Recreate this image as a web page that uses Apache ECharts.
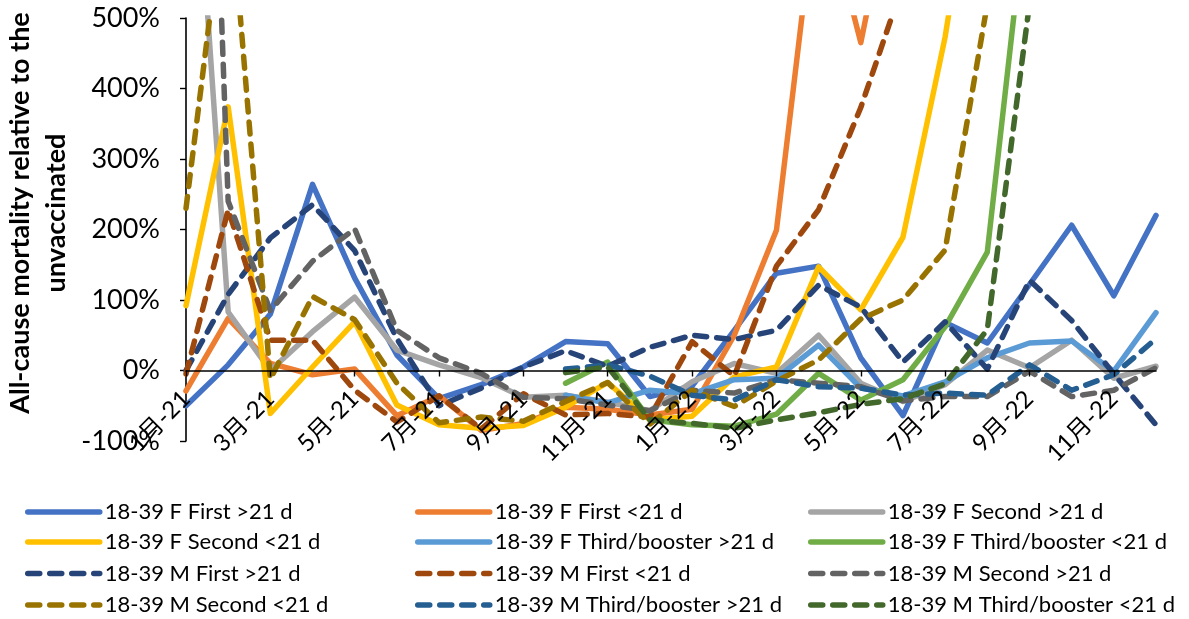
<!DOCTYPE html>
<html>
<head>
<meta charset="utf-8">
<script src="https://cdn.jsdelivr.net/npm/echarts@6/dist/echarts.min.js"></script>
<style>
  html, body { margin: 0; padding: 0; background: #fff; }
  #chart { width: 1189px; height: 619px; }
</style>
</head>
<body>
<div id="chart"></div>
<script>
// Monthly categories, Jan 2021 – Dec 2022
const months = [
  '1月-21','2月-21','3月-21','4月-21','5月-21','6月-21','7月-21','8月-21','9月-21','10月-21','11月-21','12月-21',
  '1月-22','2月-22','3月-22','4月-22','5月-22','6月-22','7月-22','8月-22','9月-22','10月-22','11月-22','12月-22'
];

// All-cause mortality relative to the unvaccinated, in percent (18-39 age band)
const fFirstOver21   = [-50, 8, 80, 264, 131, 22, -40, -20, 5, 41, 38, -37, -22, 57, 138, 148, 18, -64, 68, 39, 122, 206, 106, 220];
const fFirstUnder21  = [-29, 74, 10, -6, 2, -64, -36, -85, -75, -52, -55, -63, -55, 50, 199, 700, 465, 760, null, null, null, null, null, null];
const fSecondOver21  = [950, 83, 0, 55, 104, 29, 8, -10, -38, -35, -45, -57, -16, 10, -4, 50, -18, -44, -20, 29, 4, 43, -11, 6];
const fSecondUnder21 = [92, 374, -61, 5, 69, -49, -77, -82, -78, -52, -17, -70, -65, -9, 5, 147, 86, 189, 473, 850, null, null, null, null];
const fThirdOver21   = [null, null, null, null, null, null, null, null, null, -35, -46, -28, -33, -13, -11, 36, -25, -36, -16, 18, 39, 42, -1, 82];
const fThirdUnder21  = [null, null, null, null, null, null, null, null, null, -18, 12, -70, -77, -79, -62, -4, -42, -13, 62, 168, 700, null, null, null];
const mFirstOver21   = [0, 108, 188, 235, 170, 45, -50, -25, 5, 28, 6, 33, 50, 44, 57, 121, 90, 12, 69, 2, 128, 71, -5, -77];
const mFirstUnder21  = [-5, 228, 43, 43, -28, -73, -36, -83, -33, -63, -61, -66, 41, -8, 148, 228, 373, 548, null, null, null, null, null, null];
const mSecondOver21  = [1900, 240, 85, 155, 201, 57, 18, -4, -38, -40, -49, -57, -28, -32, -13, -18, -23, -43, -37, -37, -1, -37, -28, 4];
const mSecondUnder21 = [230, 710, -12, 105, 72, -18, -74, -66, -72, -44, -17, -76, -28, -51, -15, 15, 73, 100, 171, 520, null, null, null, null];
const mThirdOver21   = [null, null, null, null, null, null, null, null, null, 2, 8, -8, -35, -42, -13, -23, -25, -35, -32, -35, 8, -28, -6, 45];
const mThirdUnder21  = [null, null, null, null, null, null, null, null, null, -3, 5, -70, -75, -82, -70, -60, -48, -40, -19, 58, 520, null, null, null];

// Y-axis ticks
const yMin = -100, yMax = 500, yStep = 100;

const FONT = "Lato, 'Noto Sans CJK SC', sans-serif";
const DASH = [12, 10];
const LINE_W = 5.5;

const seriesDefs = [
  { name: '18-39 F First >21 d',          data: fFirstOver21,   color: '#4472C4', dashed: false },
  { name: '18-39 F First <21 d',          data: fFirstUnder21,  color: '#ED7D31', dashed: false },
  { name: '18-39 F Second >21 d',         data: fSecondOver21,  color: '#A5A5A5', dashed: false },
  { name: '18-39 F Second <21 d',         data: fSecondUnder21, color: '#FFC000', dashed: false },
  { name: '18-39 F Third/booster >21 d',  data: fThirdOver21,   color: '#5B9BD5', dashed: false },
  { name: '18-39 F Third/booster <21 d',  data: fThirdUnder21,  color: '#70AD47', dashed: false },
  { name: '18-39 M First >21 d',          data: mFirstOver21,   color: '#264478', dashed: true },
  { name: '18-39 M First <21 d',          data: mFirstUnder21,  color: '#9E480E', dashed: true },
  { name: '18-39 M Second >21 d',         data: mSecondOver21,  color: '#636363', dashed: true },
  { name: '18-39 M Second <21 d',         data: mSecondUnder21, color: '#997300', dashed: true },
  { name: '18-39 M Third/booster >21 d',  data: mThirdOver21,   color: '#255E91', dashed: true },
  { name: '18-39 M Third/booster <21 d',  data: mThirdUnder21,  color: '#43682B', dashed: true }
];

const series = seriesDefs.map(d => ({
  name: d.name,
  type: 'line',
  data: d.data,
  symbol: 'none',
  showSymbol: false,
  smooth: false,
  clip: true,
  color: d.color,
  itemStyle: { color: d.color },
  lineStyle: {
    color: d.color,
    width: LINE_W,
    type: d.dashed ? DASH : 'solid',
    cap: 'round',
    join: 'round'
  },
  emphasis: { disabled: true }
}));

// Legend: three columns filled row by row, one legend block per entry
const colLeft = [25, 415, 808];
const rowMid = [512, 542, 573.5, 605];
const legends = seriesDefs.map((d, i) => ({
  data: [d.name],
  left: colLeft[i % 3],
  top: rowMid[Math.floor(i / 3)] - 11,
  padding: 0,
  itemWidth: 72,
  itemHeight: 14,
  selectedMode: false,
  itemStyle: { opacity: 0 },
  lineStyle: { width: LINE_W },
  textStyle: { color: '#000', fontSize: 22, lineHeight: 22, fontFamily: FONT }
}));

const chart = echarts.init(document.getElementById('chart'), null, { renderer: 'canvas' });
chart.setOption({
  animation: false,
  backgroundColor: '#fff',
  textStyle: { fontFamily: FONT },
  grid: { left: 186, right: 33, top: 18, bottom: 178 },
  xAxis: {
    type: 'category',
    data: months,
    boundaryGap: false,
    z: 5,
    axisLine: { onZero: true, lineStyle: { color: '#000', width: 1.6 } },
    axisTick: { show: true, interval: 1, length: 6, lineStyle: { color: '#000', width: 1.4 } },
    axisLabel: {
      interval: 1, rotate: 45, margin: -46,
      color: '#000', fontSize: 24, fontFamily: FONT
    },
    splitLine: { show: false }
  },
  yAxis: {
    type: 'value',
    min: yMin, max: yMax, interval: yStep,
    axisLine: { show: true, lineStyle: { color: '#000', width: 1.6 } },
    axisTick: { show: true, length: 6, lineStyle: { color: '#000', width: 1.4 } },
    axisLabel: {
      formatter: '{value}%', margin: 26,
      color: '#000', fontSize: 27, fontFamily: FONT
    },
    splitLine: { show: false }
  },
  legend: legends,
  graphic: [{
    type: 'text',
    x: 38, y: 213,
    rotation: Math.PI / 2,
    style: {
      text: 'All-cause mortality relative to the\nunvaccinated',
      align: 'center',
      verticalAlign: 'middle',
      font: "bold 27px Lato, sans-serif",
      lineHeight: 36,
      fill: '#000'
    }
  }],
  series: series
});
</script>
</body>
</html>
